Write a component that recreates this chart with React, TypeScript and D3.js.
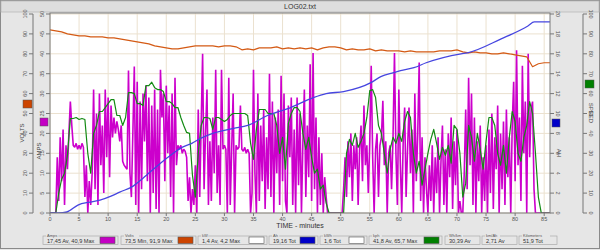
import React from 'react';
import * as d3 from 'd3';

// ---------- DATA ----------
const AMPS_STEP = 0.25; // minutes between amp samples
const amps = [
  0,0,0,0, 0,14,3,19,8,21, 2,17,11,20, 28,22, 17,16.5,17.5,16,
  17,16,17.5,16.5, 4,12,0,8, 2,10, 31,6,25,2,30, 12,22,5,31,14,
  29,9,27,19,24, 20,23,21,18,22, 13,12,11.5,11, 35.8,10, 4,20,36.8,2,
  33,0,28,6,30, 18,32,8,29,0, 27,5,31,1,26, 0,36,24,30,8,
  32,15,27,4,30, 0,34,12,17,16, 17,15,16,15.5,14, 3,9,0,6,2,
  12,0,26,4,22, 40,6,20,31,2, 18,3,24,10,36, 5,17,2,36,16,
  17,16,0,34,2, 16,30,0,17,16, 16.5,27,16,15.5,16.5, 15,16,15,0,5,
  36,10,0,30,3, 22,8,26,1,19, 6,35,4,28,0, 24,10,26,2,34.5,
  8,30,3,0,27, 14,29,2,21,0, 29,7,25,0,18, 31,4,22,9,37.4,
  3,40.2,6,24,0, 19,2,15,0,9, 4,0,0,0,0, 0,0,0,0,0,
  0,0,6,14,4, 18,9,20,3,17, 11,19,2,16,22, 8,27,12,17,5,
  18,37,14,0,16, 20,4,17,19,28.2, 12,18,0,15,17, 6,19,40.2,15,2,
  31,13,0,18,26.5, 4,16,26.5,10,21, 0,30,8,20,37.8, 3,19,0,14,6,
  0,12,3,17,0, 14,5,19,0,13, 22,2,16,0,20, 9,24,1,18,7,
  21,0,3,0,0, 10,26,6,34,12, 30,2,24,0,18, 8,22,0,14,3,
  17,0,21,5,25, 1,19,11,27,0, 20,6,23,2,26, 9,19,0,22,33,
  8,40.9,12,24,3, 37,15,28,0,40, 14,26,28,6,0, 0,0,0,0,0, 0,0,0,0,0,
];

const SPEED_STEP = 0.5;
const speed = [
  0,0,0,10,17,20,29,47.5,47.5,48,
  47,47.5,47,30,20,40,44,51,51,53,
  55,57,57,49,49,44,48,60.5,60.5,60,
  55,55,54,64,64,65.7,63,62,62,61,
  56,56,55,53,53,48,44,40.5,40,19,
  8,30,44,48,48,47.5,42,48,48,47,
  46,47,49,50,50,50,50,50,49,35,
  27,42,52,52,52,50,50,50,44,30,
  38,22,45,50,53,53,51,40,32,38,
  28,20,22,12,14,5,0,0,0,0,
  0,0,30,37,34,40,33,36,40,48,
  61.5,62,58,44,40,30,20,32,38,35,
  40,36,46,51,48,30,20,26,14,22,
  30,37,42,35,27,33,29,34,25,44,
  42,30,8,15,44,38,26,40,32,22,
  36,48,48,44,30,24,34,20,38,51,
  46,30,26,38,44,56,50,30,8,0,
  0,0,0,
];

const VOLTS_STEP = 1;
const volts = [
  92,91.5,91,90,89.5,89,89,88.5,88.5,88.5,
  88,88,87.5,87,86.5,86,85.5,85,84,83.5,
  83,82.5,82.5,83,83.5,84,84,84,84,83.5,
  84,84,83.5,82,82.5,82,83,83,83,83.5,
  82.5,83,82.5,83,82.5,83,82,83,83.5,83.5,
  83,82,82.5,82,82,82.5,81.5,82,81.5,81.5,
  81.5,81,81.5,81,81,81,81,81.5,81.5,81.5,
  82,81,80.5,81,80.5,80.5,80,80,80.5,80,
  79.5,79,78.5,73.5,75,75.5,75.5,
];

const ahTime = [0,1.5,2.9,4.8,6.9,8.6,10.5,12,14.3,16,19,21.2,22.7,24.4,25.9,28,31.6,34,37.4,41.4,45.3,47.5,50.5,55.2,56.9,59.1,60.3,62.6,64.7,70.7,71.8,77.6,82.2,83.3,86.2];
const ahValue = [0,0,0.1,0.8,1.1,1.3,1.7,2.1,2.7,3.5,5.0,6.0,6.6,7.0,7.5,8.0,8.5,8.8,9.8,10.6,11.6,12.0,12.2,13.1,13.7,14.1,14.3,14.6,15.1,16.0,16.1,17.5,18.8,19.2,19.2];

const xTicks = [0,5,10,15,20,25,30,35,40,45,50,55,60,65,70,75,80,85];
const voltTicks = [0,10,20,30,40,50,60,70,80,90,100];
const ampTicks = [0,5,10,15,20,25,30,35,40,45,50];
const ahTicks = [0,2,4,6,8,10,12,14,16,18,20];
const speedTicks = [0,10,20,30,40,50,60,70,80,90,100];

const legendTitles = ['Amps','Volts','kW','Ah','kWh','kph','Wh/km','km/Ah','Kilometers'];
const legendTexts = ['17,45 Av, 40,9 Max','73,5 Min, 91,9 Max','1,4 Av, 4,2 Max','19,16 Tot','1,6 Tot','41,8 Av, 65,7 Max','30,39 Av','2,71 Av','51,9 Tot'];
const legendSwatch = ['#c400c4','#cc4400','#ffffff','#0000c8','#ffffff','#008000',null,null,null];

const title = 'LOG02.txt';
const xTitle = 'TIME - minutes';

// ---------- LAYOUT ----------
const W = 600, H = 250;
const PL = 50, PR = 550, PT = 13, PB = 213;
const legendBoxes = [[43,118],[121,196],[198,267],[269,318],[320,367],[369,442],[445,480],[482,517],[519,557]];

const FONT = 'Liberation Sans, Arial, sans-serif';

export default function App() {
  const x = d3.scaleLinear().domain([0, 86]).range([PL, PR]);
  const yV = d3.scaleLinear().domain([0, 100]).range([PB, PT + 1]);
  const yA = d3.scaleLinear().domain([0, 50]).range([PB, PT + 1]);
  const yAh = d3.scaleLinear().domain([0, 20]).range([PB, PT + 1]);
  const yS = d3.scaleLinear().domain([0, 100]).range([PB, PT + 1]);

  const ampLine = d3.line<number>().x((d, i) => x(i * AMPS_STEP)).y(d => yA(d))(amps) || '';
  const speedLine = d3.line<number>().x((d, i) => x(i * SPEED_STEP)).y(d => yS(d))(speed) || '';
  const voltLine = d3.line<number>().x((d, i) => x(i * VOLTS_STEP)).y(d => yV(d))(volts) || '';
  const ahLine = d3.line<number>().x((d, i) => x(ahTime[i])).y(d => yAh(d)).curve(d3.curveMonotoneX)(ahValue) || '';

  const tickFont = 5.5;
  const tickCol = '#555';

  const leftAxis = (ax: number, ticks: number[], scale: d3.ScaleLinear<number, number>, drawLine: boolean) => (
    <g>
      {drawLine && <line x1={ax} x2={ax} y1={PT + 1} y2={PB} stroke="#777" strokeWidth={1} />}
      {ticks.map(t => (
        <g key={t}>
          <line x1={ax - 4} x2={ax} y1={scale(t)} y2={scale(t)} stroke="#777" />
          <text transform={`translate(${ax - 6},${scale(t)}) rotate(-90)`} textAnchor="middle" fontSize={tickFont} fill={tickCol} fontFamily={FONT}>{t}</text>
        </g>
      ))}
    </g>
  );
  const rightAxis = (ax: number, ticks: number[], scale: d3.ScaleLinear<number, number>, drawLine: boolean) => (
    <g>
      {drawLine && <line x1={ax} x2={ax} y1={PT + 1} y2={PB} stroke="#777" strokeWidth={1} />}
      {ticks.map(t => (
        <g key={t}>
          <line x1={ax} x2={ax + 4} y1={scale(t)} y2={scale(t)} stroke="#777" />
          <text transform={`translate(${ax + 6},${scale(t)}) rotate(90)`} textAnchor="middle" fontSize={tickFont} fill={tickCol} fontFamily={FONT}>{t}</text>
        </g>
      ))}
    </g>
  );

  return (
    <svg width={W} height={H} style={{ position: 'absolute', left: 0, top: 0 }}>
      <defs>
        <clipPath id="plotclip"><rect x={PL} y={PT} width={PR - PL} height={PB - PT} /></clipPath>
      </defs>
      <rect x={0} y={0} width={W} height={H} fill="#e6e6e6" />
      <rect x={0.5} y={0.5} width={W - 1} height={H - 2} fill="none" stroke="#8a8a8a" />
      {/* title bar */}
      <rect x={1} y={1} width={W - 2} height={11} fill="#dedede" stroke="#b8b8b8" strokeWidth={0.8} />
      <text x={300} y={9} textAnchor="middle" fontSize={7} fill="#333" fontFamily={FONT}>{title}</text>

      {/* plot */}
      <rect x={PL} y={PT} width={PR - PL} height={PB - PT} fill="#ffffff" />
      {xTicks.map(t => <line key={'gx' + t} x1={x(t)} x2={x(t)} y1={PT} y2={PB} stroke="#ebe1cf" strokeWidth={1} />)}
      {voltTicks.map(t => <line key={'gy' + t} x1={PL} x2={PR} y1={yV(t)} y2={yV(t)} stroke="#ebe1cf" strokeWidth={1} />)}

      <g clipPath="url(#plotclip)" fill="none">
        <path d={ampLine} stroke="#cc00cc" strokeWidth={1.6} strokeLinejoin="miter" strokeMiterlimit={2} />
        <path d={speedLine} stroke="#138a13" strokeWidth={1.2} strokeLinejoin="round" />
        <path d={voltLine} stroke="#d45a14" strokeWidth={1.2} strokeLinejoin="round" />
        <path d={ahLine} stroke="#4646e0" strokeWidth={1.3} />
      </g>
      <rect x={PL} y={PT} width={PR - PL} height={PB - PT} fill="none" stroke="#7a7a7a" />

      {/* left axes */}
      {leftAxis(33, voltTicks, yV, true)}
      {leftAxis(PL, ampTicks, yA, false)}
      {/* right axes */}
      {rightAxis(PR, ahTicks, yAh, false)}
      {rightAxis(583, speedTicks, yS, true)}

      {/* axis titles and swatches */}
      <rect x={23} y={100} width={9} height={8} fill="#cc4400" stroke="#555" strokeWidth={0.5} />
      <text transform="translate(24,133) rotate(-90)" textAnchor="middle" fontSize={6} fill="#444" fontFamily={FONT}>VOLTS</text>
      <rect x={40} y={118} width={8} height={8} fill="#c400c4" stroke="#555" strokeWidth={0.5} />
      <text transform="translate(41,151) rotate(-90)" textAnchor="middle" fontSize={6} fill="#444" fontFamily={FONT}>AMPS</text>
      <rect x={552} y={119} width={8} height={8} fill="#0000c8" stroke="#555" strokeWidth={0.5} />
      <text transform="translate(557,153) rotate(90)" textAnchor="middle" fontSize={6} fill="#444" fontFamily={FONT}>AH</text>
      <rect x={585} y={80} width={9} height={8} fill="#008000" stroke="#555" strokeWidth={0.5} />
      <text transform="translate(589,113) rotate(90)" textAnchor="middle" fontSize={6} fill="#444" fontFamily={FONT}>SPEED</text>

      {/* x axis */}
      {xTicks.map(t => (
        <g key={'xt' + t}>
          <line x1={x(t)} x2={x(t)} y1={PB} y2={PB + 3} stroke="#777" />
          <text x={x(t)} y={PB + 8} textAnchor="middle" fontSize={tickFont} fill={tickCol} fontFamily={FONT}>{t}</text>
        </g>
      ))}
      <text x={300} y={228} textAnchor="middle" fontSize={7} fill="#333" fontFamily={FONT}>{xTitle}</text>

      {/* legend */}
      {legendBoxes.map(([a, b], i) => (
        <g key={'lg' + i}>
          <rect x={a} y={236} width={b - a} height={8.5} fill="none" stroke="#aaa" strokeWidth={0.7} />
          <rect x={a + 3} y={233} width={legendTitles[i].length * 2.6 + 2} height={4} fill="#e6e6e6" />
          <text x={a + 4} y={236.8} fontSize={4} fill="#555" fontFamily={FONT}>{legendTitles[i]}</text>
          <text x={a + 4} y={242.6} fontSize={5.6} fill="#333" fontFamily={FONT}>{legendTexts[i]}</text>
          {legendSwatch[i] && <rect x={b - 18} y={237} width={15} height={6.5} fill={legendSwatch[i] as string} stroke="#555" strokeWidth={0.6} />}
        </g>
      ))}
    </svg>
  );
}
